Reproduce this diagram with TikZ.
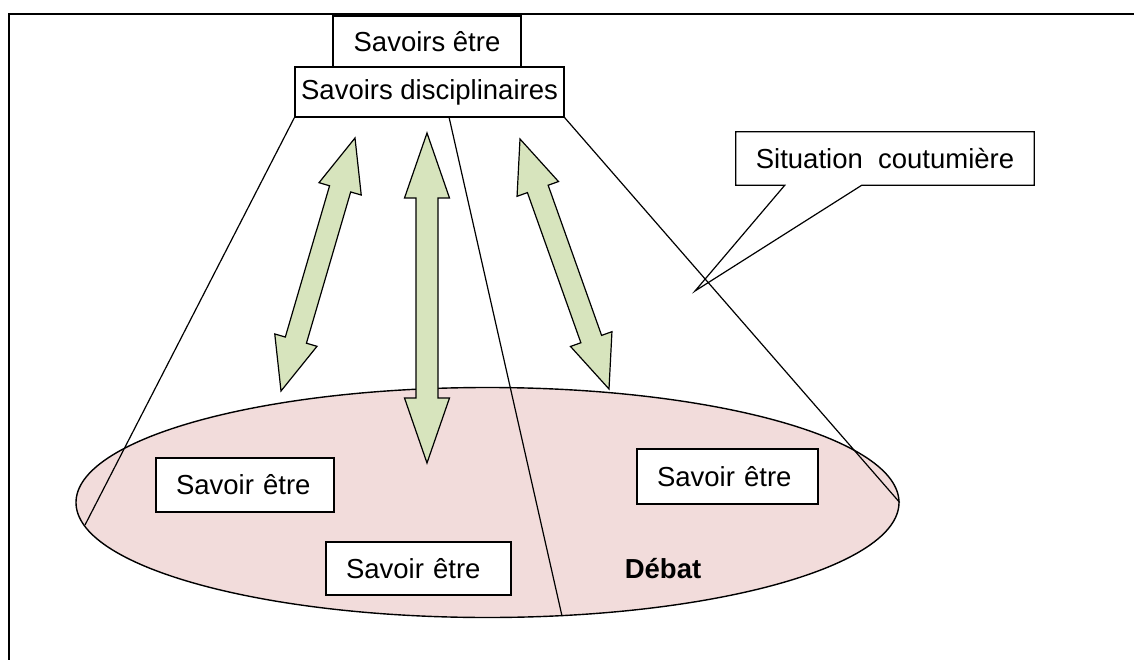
\documentclass[tikz,border=0pt]{standalone}
\usepackage{fontspec}
\setmainfont{Liberation Sans}
\usetikzlibrary{calc,shapes.geometric,backgrounds}
\definecolor{pinkfill}{HTML}{F2DCDB}
\definecolor{greenfill}{HTML}{D7E4BD}
\newcommand{\dblarr}[5]{%
  \coordinate (p1) at ($(#1)!#3!(#2)$);
  \coordinate (p2) at ($(#2)!#3!(#1)$);
  \filldraw[arrowst] (#1) -- ($(p1)!#4!90:(#2)$) -- ($(p1)!#5!90:(#2)$)
    -- ($(p2)!#5!-90:(#1)$) -- ($(p2)!#4!-90:(#1)$) -- (#2)
    -- ($(p2)!#4!90:(#1)$) -- ($(p2)!#5!90:(#1)$)
    -- ($(p1)!#5!-90:(#2)$) -- ($(p1)!#4!-90:(#2)$) -- cycle;}
\begin{document}
\begin{tikzpicture}[x=1pt,y=-1pt,
  txt/.style={font=\fontsize{27.5}{32}\selectfont},
  box/.style={txt, draw, fill=white, line width=1.2pt, inner sep=0pt},
  inbox/.style={box, align=left, inner xsep=20pt},
  conn/.style={line width=1.2pt},
  arrowst/.style={draw=black, fill=greenfill, line width=1.2pt, line join=miter}]
\useasboundingbox (0,0) rectangle (1134,660);
% frame
\coordinate (fr1) at (1134,14);
\coordinate (fr2) at (9,14);
\coordinate (fr3) at (9,660);
\draw[line width=2pt] (fr1) -- (fr2) -- (fr3);
% ellipse
\node[ellipse, draw, fill=pinkfill, line width=1.4pt, minimum width=823pt, minimum height=230pt, inner sep=0pt] (ell) at (487.5,502.5) {};
% top boxes
\node[box, minimum width=188pt, minimum height=51pt] (se) at (427,41.5) {Savoirs être};
\node[box, minimum width=269pt, minimum height=50pt] (disc) at (429.5,92) {Savoirs disciplinaires};
% callout
\node[txt, minimum width=298pt, minimum height=53pt, inner sep=0pt] (sit) at (885,158.5) {};
\coordinate (tip) at (695,291);
\begin{scope}[on background layer]
\filldraw[fill=white, conn] (sit.north west) -- (sit.north east) -- (sit.south east)
  -- ($(sit.south west)+(126,0)$) -- (tip) -- ($(sit.south west)+(49,0)$)
  -- (sit.south west) -- cycle;
\end{scope}
\node[txt] at (sit) {Situation\ \ coutumière};
% cone lines
\coordinate (mstart) at (449,117);
\coordinate (lend) at (85,525);
\coordinate (mend) at (562,616);
\draw[conn] (disc.south west) -- (lend);
\draw[conn] (mstart) -- (mend);
\draw[conn] (disc.south east) -- (ell.east);
% arrows
\coordinate (la) at (355,138); \coordinate (lb) at (281,391);
\coordinate (ma) at (427,133); \coordinate (mb) at (427,463);
\coordinate (ra) at (520,139); \coordinate (rb) at (609,389);
\dblarr{la}{lb}{53pt}{22pt}{11pt}
\dblarr{ma}{mb}{65pt}{22.5pt}{11pt}
\dblarr{ra}{rb}{53pt}{22pt}{11pt}
% inner boxes
\node[inbox, minimum width=178pt, text width=138pt, minimum height=54pt] (sb1) at (245,485) {Savoir être};
\node[inbox, minimum width=185pt, text width=145pt, minimum height=53pt] (sb2) at (418.5,568.5) {Savoir être};
\node[inbox, minimum width=181pt, text width=141pt, minimum height=55pt] (sb3) at (727.5,476.5) {Savoir être};
\node[txt, font=\bfseries\fontsize{27.5}{32}\selectfont] (deb) at (663,569) {Débat};
\end{tikzpicture}
\end{document}
